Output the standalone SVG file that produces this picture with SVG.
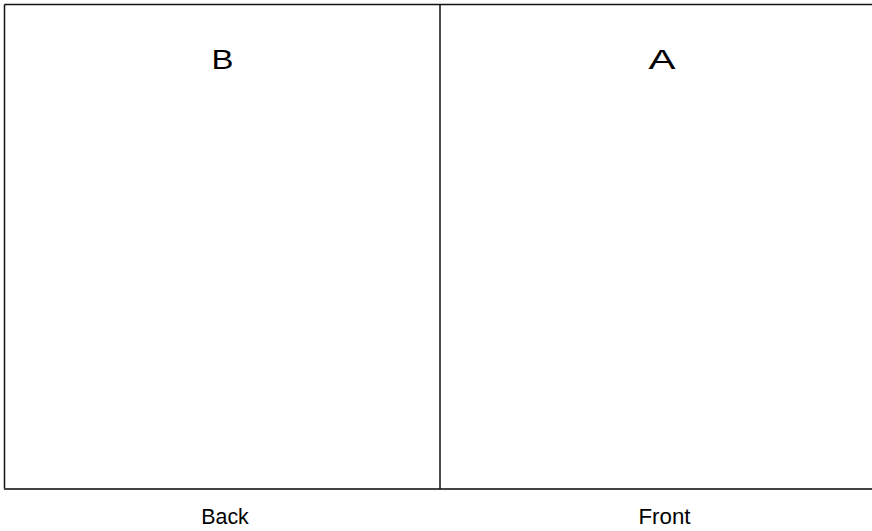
<svg xmlns="http://www.w3.org/2000/svg" width="872" height="531" viewBox="0 0 872 531">
<style>
.frame{fill:none;stroke:#111;stroke-width:1.5}
.lbl{font-family:"Liberation Sans",Arial,sans-serif;fill:#000;text-anchor:middle}
.big{font-size:27px}
.small{font-size:22.5px}
</style>
<rect width="872" height="531" fill="#fff"/>
<g id="frame">
<line class="frame" x1="4.5" y1="4.5" x2="872" y2="4.5"/>
<line class="frame" x1="4.5" y1="4.5" x2="4.5" y2="489"/>
<line x1="4" y1="489" x2="872" y2="489" stroke="#444" stroke-width="2"/>
</g>
<g id="connectors">
<line class="frame" x1="440" y1="4.5" x2="440" y2="489"/>
</g>
<g id="panel-B">
<text class="lbl big" x="222.5" y="69" textLength="22" lengthAdjust="spacingAndGlyphs">B</text>
</g>
<g id="panel-A">
<text class="lbl big" x="662" y="69" textLength="27" lengthAdjust="spacingAndGlyphs">A</text>
</g>
<g id="label-back">
<text class="lbl small" x="225" y="523.5" textLength="47.5" lengthAdjust="spacingAndGlyphs">Back</text>
</g>
<g id="label-front">
<text class="lbl small" x="664.5" y="523.5" textLength="52" lengthAdjust="spacingAndGlyphs">Front</text>
</g>
</svg>
